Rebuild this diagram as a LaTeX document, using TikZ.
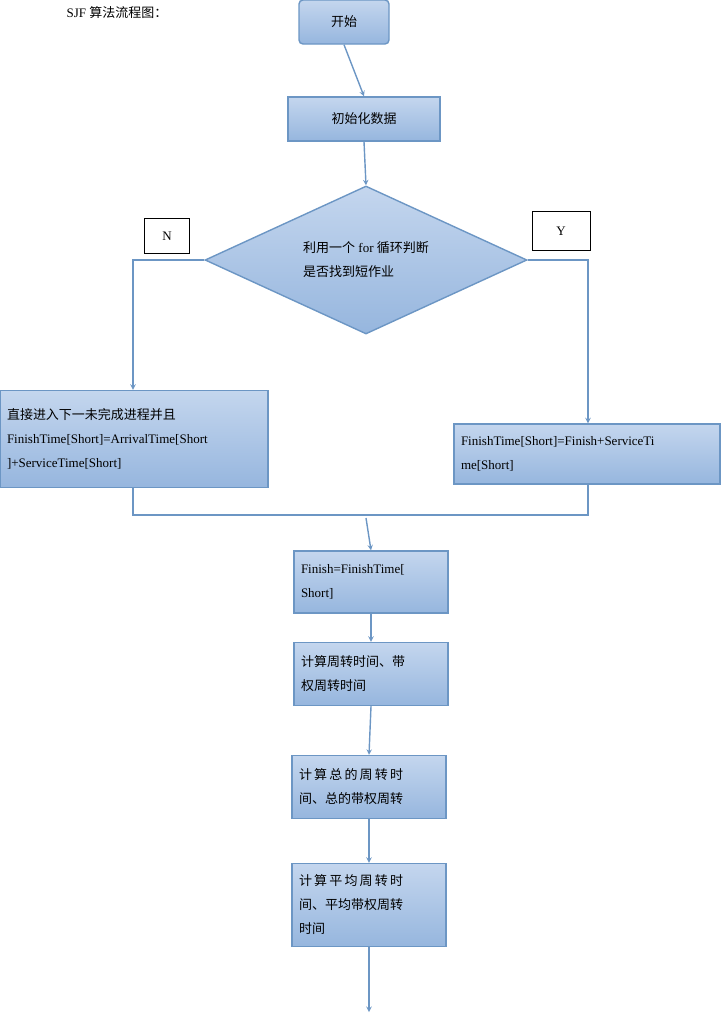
\documentclass[tikz,border=0pt]{standalone}
\usepackage{fontspec}
\setmainfont{Liberation Serif}
\newfontfamily\cjk{Noto Sans CJK SC}
\usetikzlibrary{shapes.geometric}
\definecolor{boxtop}{RGB}{196,214,238}
\definecolor{boxbot}{RGB}{150,182,222}
\definecolor{boxline}{RGB}{108,150,196}
\tikzset{
    blockbox/.style = {draw=boxline, line width=1.4pt, top color=boxtop, bottom color=boxbot,
        align=left, inner sep=7pt, font=\fontsize{13}{24}\selectfont},
    tagbox/.style = {draw=black, fill=white, font=\fontsize{13}{14}\selectfont},
    flow/.style = {draw=boxline, line width=1.4pt},
}
\begin{document}
\begin{tikzpicture}[x=1pt, y=-1pt, >=stealth]
    \useasboundingbox (0,0) rectangle (722,1015);
    \node[anchor=west, font=\fontsize{13}{14}\selectfont] (title) at (63,13) {SJF {\cjk 算法流程图：}};

    % boxes
    \node[blockbox, rounded corners=4pt, minimum width=90pt, minimum height=44pt, align=center] (start) at (344,22) {\cjk 开始};
    \node[blockbox, minimum width=152pt, minimum height=44pt, align=center] (init) at (364,119) {\cjk 初始化数据};
    \node[blockbox, diamond, minimum width=322pt, minimum height=148pt, inner sep=0pt, aspect=2.2, align=left] (judge) at (366,260)
        {{\cjk 利用一个} for {\cjk 循环判断}\\{\cjk 是否找到短作业}};
    \node[tagbox, minimum width=45pt, minimum height=35pt] (no) at (167,236) {N};
    \node[tagbox, minimum width=58pt, minimum height=39pt] (yes) at (561,231) {Y};
    \node[blockbox, minimum width=268pt, minimum height=97pt, text width=254pt] (left) at (134,439)
        {{\cjk 直接进入下一未完成进程并且}\\FinishTime[Short]=ArrivalTime[Short\\]+ServiceTime[Short]};
    \node[blockbox, minimum width=265pt, minimum height=60pt, text width=252pt] (right) at (587,454)
        {FinishTime[Short]=Finish+ServiceTi\\me[Short]};
    \node[blockbox, minimum width=153pt, minimum height=62pt, text width=140pt] (finish) at (371,582)
        {Finish=FinishTime[\\Short]};
    \node[blockbox, minimum width=152pt, minimum height=63pt, text width=140pt] (turn) at (371,674)
        {\cjk 计算周转时间、带\\权周转时间};
    \node[blockbox, minimum width=152pt, minimum height=63pt, text width=140pt] (total) at (369,787)
        {\cjk 计\,算\,总\,的\,周\,转\,时\\间、总的带权周转};
    \node[blockbox, minimum width=152pt, minimum height=83pt, text width=140pt] (avg) at (369,905)
        {\cjk 计\,算\,平\,均\,周\,转\,时\\间、平均带权周转\\时间};

    % connectors
    \coordinate (lbend) at (133,260);
    \coordinate (rbend) at (588,260);
    \coordinate (ljoin) at (133,515);
    \coordinate (rjoin) at (588,515);
    \coordinate (merge) at (366,518);
    \coordinate (stop) at (369,1012);
    \draw[flow, ->] (start.south) -- (init.north);
    \draw[flow, ->] (init.south) -- (judge.north);
    \draw[flow, ->] (judge.west) -- (lbend) -- (left.north -| lbend);
    \draw[flow, ->] (judge.east) -- (rbend) -- (right.north -| rbend);
    \draw[flow] (left.south -| ljoin) -- (ljoin) -- (rjoin) -- (right.south -| rjoin);
    \draw[flow, ->] (merge) -- (finish.north);
    \draw[flow, ->] (finish.south) -- (turn.north);
    \draw[flow, ->] (turn.south) -- (total.north);
    \draw[flow, ->] (total.south) -- (avg.north);
    \draw[flow, ->] (avg.south) -- (stop);
\end{tikzpicture}
\end{document}
